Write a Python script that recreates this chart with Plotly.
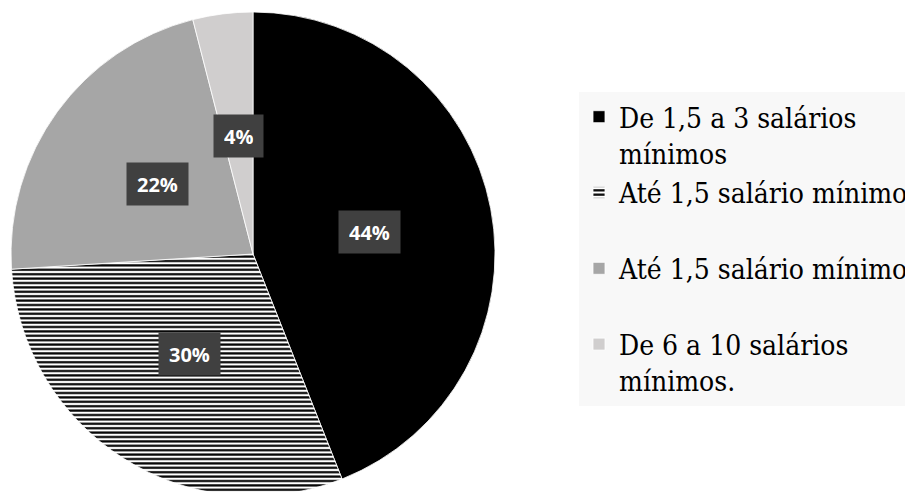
import math
import plotly.graph_objects as go

# ---- data ----
categories = [
    "De 1,5 a 3 salários mínimos",
    "Até 1,5 salário mínimo",
    "Até 1,5 salário mínimo",
    "De 6 a 10 salários mínimos.",
]
legend_lines = [
    ["De 1,5 a 3 salários", "mínimos"],
    ["Até 1,5 salário mínimo", "\u00a0"],
    ["Até 1,5 salário mínimo", "\u00a0\u00a0"],
    ["De 6 a 10 salários", "mínimos."],
]
values = [44, 30, 22, 4]
text_labels = ["44%", "30%", "22%", "4%"]

# ---- styles ----
colors = ["#000000", "#ffffff", "#a6a6a6", "#d0cece"]
shapes = ["", "-", "", ""]
SERIF = "DejaVu Serif Condensed, DejaVu Serif, serif"

legend_labels = ["<br>".join(lines) for lines in legend_lines]

OFF = 8  # page body margin
W, H = 913, 492
mt, mb = 4, 4
plot_h = H - mt - mb
cx_px = 245
radius = plot_h / 2

fig = go.Figure()
fig.add_trace(go.Pie(
    labels=legend_labels,
    values=values,
    sort=False,
    direction="clockwise",
    rotation=0,
    textinfo="none",
    hoverinfo="percent",
    marker=dict(
        colors=colors,
        line=dict(color="#ffffff", width=0.8),
        pattern=dict(shape=shapes, fgcolor="#000000", bgcolor="#ffffff",
                     size=4.4, solidity=0.5, fillmode="replace"),
    ),
    domain=dict(x=[0, 2 * cx_px / W], y=[0, 1]),
    showlegend=True,
))

# data labels placed at the middle angle of each slice
total = sum(values)
cum = 0
annotations = []
for v, t in zip(values, text_labels):
    mid = (cum + v / 2) / total * 2 * math.pi
    cum += v
    r = 0.49 * radius
    px = cx_px + r * math.sin(mid)
    py = mt + radius - r * math.cos(mid)
    annotations.append(dict(
        x=px / W, y=(H - mb - py) / plot_h, xref="paper", yref="paper",
        text="<b>%s</b>" % t, showarrow=False,
        font=dict(family="Open Sans", size=20, color="#ffffff"),
        bgcolor="#404040", borderpad=10, height=22,
        xanchor="center", yanchor="middle",
    ))

fig.update_layout(
    width=W, height=H,
    margin=dict(l=0, r=0, t=mt, b=mb),
    paper_bgcolor="#ffffff",
    plot_bgcolor="#ffffff",
    annotations=annotations,
    legend=dict(
        x=(579 - OFF) / W, xanchor="left",
        y=(H - mb - (92 - OFF)) / plot_h, yanchor="top",
        bgcolor="#f8f8f8",
        font=dict(family=SERIF, size=28, color="#000000"),
        valign="top",
        tracegroupgap=0,
        itemclick=False,
    ),
)

fig.write_html("out.html")
